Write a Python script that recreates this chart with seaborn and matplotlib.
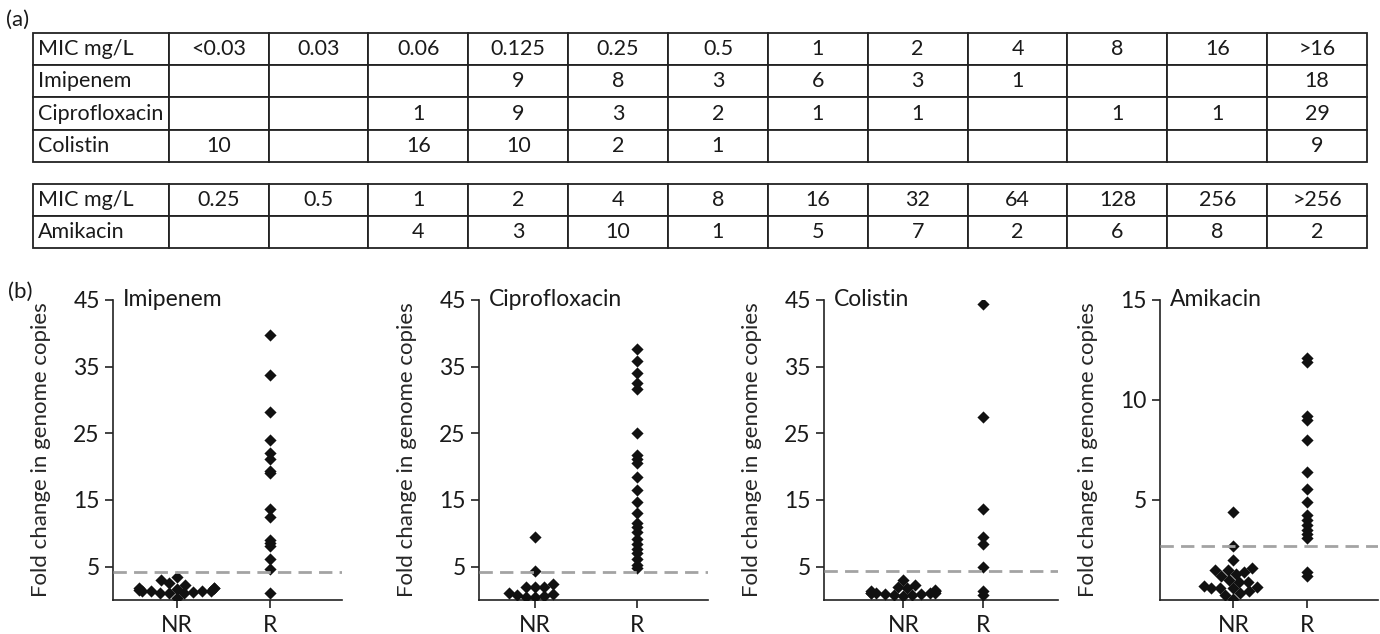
import pandas as pd
import matplotlib
matplotlib.use('Agg')
import matplotlib.pyplot as plt
import seaborn as sns

# ---- (a) MIC distribution tables ----
mic_top = ['<0.03', '0.03', '0.06', '0.125', '0.25', '0.5', '1', '2', '4', '8', '16', '>16']
imipenem_counts = ['', '', '', '9', '8', '3', '6', '3', '1', '', '', '18']
cipro_counts = ['', '', '1', '9', '3', '2', '1', '1', '', '1', '1', '29']
colistin_counts = ['10', '', '16', '10', '2', '1', '', '', '', '', '', '9']
mic_amk = ['0.25', '0.5', '1', '2', '4', '8', '16', '32', '64', '128', '256', '>256']
amikacin_counts = ['', '', '4', '3', '10', '1', '5', '7', '2', '6', '8', '2']

# ---- (b) fold change in genome copies, non-responders (NR) / responders (R) ----
drugs = ['Imipenem', 'Ciprofloxacin', 'Colistin', 'Amikacin']
imipenem_nr = [3.4, 3.0, 2.5, 2.3, 1.8, 1.8, 1.8, 1.7, 1.5, 1.4, 1.3, 1.3, 1.3, 1.2, 1.1, 1.0, 1.0, 0.3]
imipenem_r = [39.7, 33.7, 28.2, 24.0, 22.0, 21.2, 19.4, 19.0, 13.6, 12.5, 9.0, 8.6, 8.1, 6.2, 4.7, 1.1]
cipro_nr = [9.4, 4.3, 2.4, 2.0, 2.0, 1.9, 1.0, 0.9, 0.8, 0.6, 0.45, 0.45]
cipro_r = [37.7, 35.8, 34.1, 32.6, 31.6, 25.1, 21.7, 21.2, 20.5, 18.5, 16.5, 14.7, 13.1,
           11.6, 10.9, 10.2, 9.2, 8.4, 7.7, 7.0, 6.2, 5.3, 4.75]
colistin_nr = [3.0, 2.2, 2.0, 1.8, 1.55, 1.3, 1.3, 1.3, 1.1, 1.05, 1.05, 1.0, 1.0, 0.9, 0.9, 0.8, 0.7, 0.6]
colistin_r = [44.4, 27.4, 13.7, 9.4, 8.4, 5.0, 1.3, 0.7]
amikacin_nr = [4.4, 2.7, 2.0, 1.6, 1.5, 1.5, 1.4, 1.3, 1.2, 1.0, 0.9, 0.9, 0.7, 0.65,
               0.6, 0.6, 0.6, 0.45, 0.35, 0.25, 0.05]
amikacin_r = [12.1, 11.9, 9.2, 9.0, 8.0, 6.4, 5.55, 4.9, 4.25, 4.0, 3.75, 3.5, 3.3, 3.1, 1.4, 1.2]
cutoffs = [4.25, 4.25, 4.4, 2.7]

rows = []
for drug, nr, r in zip(drugs, [imipenem_nr, cipro_nr, colistin_nr, amikacin_nr],
                       [imipenem_r, cipro_r, colistin_r, amikacin_r]):
    rows += [(drug, 'NR', v) for v in nr]
    rows += [(drug, 'R', v) for v in r]
df = pd.DataFrame(rows, columns=['drug', 'group', 'fold'])

sns.set_style('ticks')
plt.rcParams['font.family'] = ['Lato', 'DejaVu Sans']
plt.rcParams['text.color'] = '#1a1a1a'

W, H = 1380, 634
fig = plt.figure(figsize=(W / 100, H / 100), dpi=100)

# tables
col_w = [136] + [100] * 12
col_w = [c / sum(col_w) for c in col_w]


def draw_table(cells, top, bottom):
    tax = fig.add_axes([33 / W, 1 - bottom / H, (1367 - 33) / W, (bottom - top) / H])
    tax.axis('off')
    tbl = tax.table(cellText=cells, colWidths=col_w, cellLoc='center', bbox=[0, 0, 1, 1])
    tbl.auto_set_font_size(False)
    tbl.set_fontsize(15.5)
    for (i, j), cell in tbl.get_celld().items():
        cell.set_linewidth(1.3)
        cell.set_edgecolor('#222222')
        if j == 0:
            cell._loc = 'left'
            cell.PAD = 0.035
            cell.get_text().set_ha('left')


draw_table([['MIC mg/L'] + mic_top,
            ['Imipenem'] + imipenem_counts,
            ['Ciprofloxacin'] + cipro_counts,
            ['Colistin'] + colistin_counts], 33, 162)
draw_table([['MIC mg/L'] + mic_amk,
            ['Amikacin'] + amikacin_counts], 184, 248)

fig.text(6 / W, 1 - 20 / H, '(a)', fontsize=16, va='center')
fig.text(8 / W, 1 - 292 / H, '(b)', fontsize=16, va='center')

# scatter panels
panel_px = [(113, 342), (479, 708), (824, 1058), (1160, 1378)]
xlims = [(-0.68, 1.77), (-0.55, 1.69), (-0.99, 1.93), (-1.0, 1.97)]
ylims = [(0, 45), (0, 45), (0, 45), (0, 15)]
yticks = [[5, 15, 25, 35, 45]] * 3 + [[5, 10, 15]]

for drug, (l, r), xl, yl, yt, cut in zip(drugs, panel_px, xlims, ylims, yticks, cutoffs):
    ax = fig.add_axes([l / W, 34 / H, (r - l) / W, 300 / H])
    sub = df[df.drug == drug]
    sns.swarmplot(data=sub[sub.group == 'NR'], x='group', y='fold', order=['NR', 'R'],
                  marker='D', color='#111111', size=6.2, ax=ax)
    sns.stripplot(data=sub[sub.group == 'R'], x='group', y='fold', order=['NR', 'R'],
                  jitter=False, marker='D', color='#111111', size=6.2, ax=ax)
    ax.axhline(cut, color='#a3a3a3', lw=2, ls=(0, (4.8, 2.6)), zorder=3)
    ax.set_xlim(xl)
    ax.set_ylim(yl)
    ax.set_yticks(yt)
    ax.set_xlabel('')
    ax.set_ylabel('Fold change in genome copies', fontsize=16)
    ax.yaxis.set_label_coords(-62 / (r - l), 0.5)
    sns.despine(ax=ax)
    for s in ['left', 'bottom']:
        ax.spines[s].set_linewidth(1.2)
        ax.spines[s].set_color('#222222')
    ax.tick_params(length=6, width=1.2, labelsize=16.5, color='#222222', labelcolor='#1a1a1a')
    ax.tick_params(axis='x', pad=5)
    ax.annotate(drug, xy=(0, 1), xycoords='axes fraction', xytext=(10, 0),
                textcoords='offset pixels', va='center', ha='left', fontsize=16.5)

fig.savefig('out.png', dpi=100)
